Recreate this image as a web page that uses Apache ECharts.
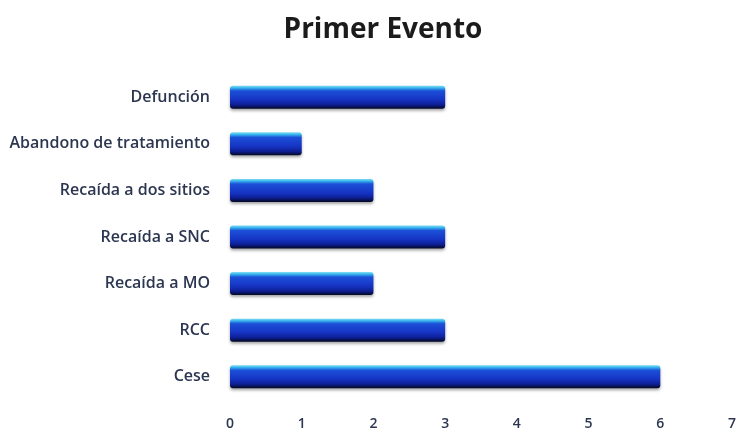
<!DOCTYPE html>
<html>
<head>
<meta charset="utf-8">
<script src="https://cdn.jsdelivr.net/npm/echarts@6/dist/echarts.min.js"></script>
<style>
  html, body { margin: 0; padding: 0; background: #ffffff; }
  #chart { width: 739px; height: 431px; }
</style>
</head>
<body>
<div id="chart"></div>
<script>
// Event categories, listed bottom to top as the category axis draws them
var categories = ['Cese', 'RCC', 'Recaída a MO', 'Recaída a SNC', 'Recaída a dos sitios', 'Abandono de tratamiento', 'Defunción'];
var counts = [6, 3, 2, 3, 2, 1, 3];
var xTicks = [0, 1, 2, 3, 4, 5, 6, 7];

var chart = echarts.init(document.getElementById('chart'));

// Glossy bevelled blue fill for the bars
var barFill = new echarts.graphic.LinearGradient(0, 0, 0, 1, [
  { offset: 0.00, color: '#7fe0f5' },
  { offset: 0.10, color: '#35b0ec' },
  { offset: 0.22, color: '#1c50d8' },
  { offset: 0.60, color: '#1634c4' },
  { offset: 0.82, color: '#0d1f95' },
  { offset: 1.00, color: '#020822' }
]);

chart.setOption({
  backgroundColor: '#ffffff',
  title: {
    text: 'Primer Evento',
    left: 378,
    top: 11,
    textAlign: 'center',
    textStyle: {
      fontFamily: 'Open Sans',
      fontWeight: 'bold',
      fontSize: 28,
      color: '#1b1b1b'
    }
  },
  grid: { left: 230, right: 3, top: 74, bottom: 31, containLabel: false },
  xAxis: {
    type: 'value',
    min: xTicks[0],
    max: xTicks[xTicks.length - 1],
    interval: 1,
    axisLine: { show: false },
    axisTick: { show: false },
    splitLine: { show: false },
    axisLabel: {
      margin: 17,
      fontFamily: 'Open Sans',
      fontWeight: 600,
      fontSize: 14,
      color: '#2c3650'
    }
  },
  yAxis: {
    type: 'category',
    data: categories,
    axisLine: { show: false },
    axisTick: { show: false },
    axisLabel: {
      margin: 20,
      fontFamily: 'Open Sans',
      fontWeight: 600,
      fontSize: 16,
      color: '#2c3650'
    }
  },
  series: [{
    type: 'bar',
    data: counts,
    barWidth: 23,
    itemStyle: {
      color: barFill,
      borderRadius: 3,
      shadowColor: 'rgba(0,0,0,0.35)',
      shadowBlur: 3,
      shadowOffsetY: 2
    },
    animation: false
  }]
});
</script>
</body>
</html>
